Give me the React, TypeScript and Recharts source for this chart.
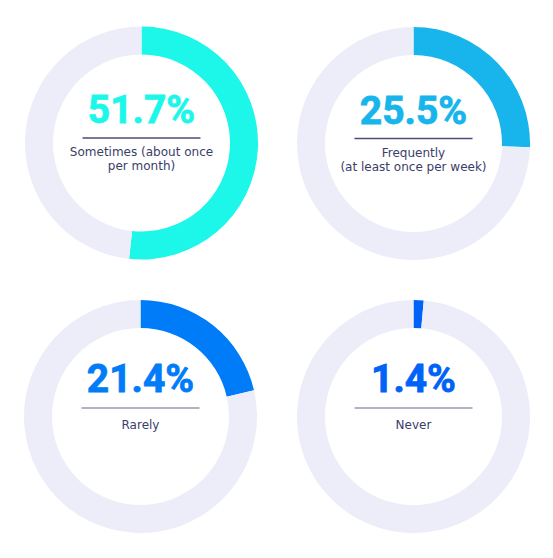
import { PieChart, Pie, Cell, Label } from 'recharts'

// share of respondents per answer
const categories = ['Sometimes', 'Frequently', 'Rarely', 'Never']
const labelLines = [
  ['Sometimes (about once', 'per month)'],
  ['Frequently', '(at least once per week)'],
  ['Rarely'],
  ['Never'],
]
const shares = [51.7, 25.5, 21.4, 1.4]
const percentLabels = ['51.7%', '25.5%', '21.4%', '1.4%']

const colors = ['#1cf7ea', '#17b5ec', '#007cf9', '#0062f7']
const trackColor = '#ededf9'
const ruleColors = ['#4b4d78', '#4b4d78', '#9898ad', '#9898ad']

const centers = [
  { cx: 141.5, cy: 143 },
  { cx: 413.5, cy: 143.5 },
  { cx: 140.5, cy: 416.5 },
  { cx: 413.5, cy: 416.5 },
]
// text offsets from ring centre: [percent baseline, rule, first label baseline]
const textOffsets = [
  [-20, -5, 13],
  [-20, -5, 13],
  [-25, -8.5, 12],
  [-25, -8.5, 12],
]

function CenterText({ viewBox, index }: any) {
  const cx = viewBox?.cx ?? centers[index].cx
  const cy = viewBox?.cy ?? centers[index].cy
  const [pct, rule, lab] = textOffsets[index]
  return (
    <g>
      <text
        x={cx}
        y={cy + pct}
        textAnchor="middle"
        fill={colors[index]}
        fontFamily="Roboto"
        fontWeight={700}
        fontSize={39}
        stroke={colors[index]}
        strokeWidth={0.8}
      >
        {percentLabels[index]}
      </text>
      <line
        x1={cx - 59}
        x2={cx + 59}
        y1={cy + rule}
        y2={cy + rule}
        stroke={ruleColors[index]}
        strokeWidth={1.5}
      />
      {labelLines[index].map((l, i) => (
        <text
          key={i}
          x={cx}
          y={cy + lab + i * 14}
          textAnchor="middle"
          fill="#3b3d6a"
          fontFamily="DejaVu Sans"
          fontSize={12}
        >
          {l}
        </text>
      ))}
    </g>
  )
}

export default function App() {
  return (
    <div style={{ position: 'absolute', left: 0, top: 0, background: '#fff' }}>
      <PieChart width={553} height={558} margin={{ top: 0, right: 0, bottom: 0, left: 0 }}>
        {categories.map((name, i) => (
          <Pie
            key={name}
            data={[
              { name, value: shares[i] },
              { name: 'Other', value: 100 - shares[i] },
            ]}
            dataKey="value"
            cx={centers[i].cx}
            cy={centers[i].cy}
            innerRadius={88.5}
            outerRadius={116.5}
            startAngle={90}
            endAngle={-270}
            stroke="none"
            isAnimationActive={false}
          >
            <Cell fill={colors[i]} />
            <Cell fill={trackColor} />
            <Label position="center" content={(p: any) => <CenterText {...p} index={i} />} />
          </Pie>
        ))}
      </PieChart>
    </div>
  )
}
